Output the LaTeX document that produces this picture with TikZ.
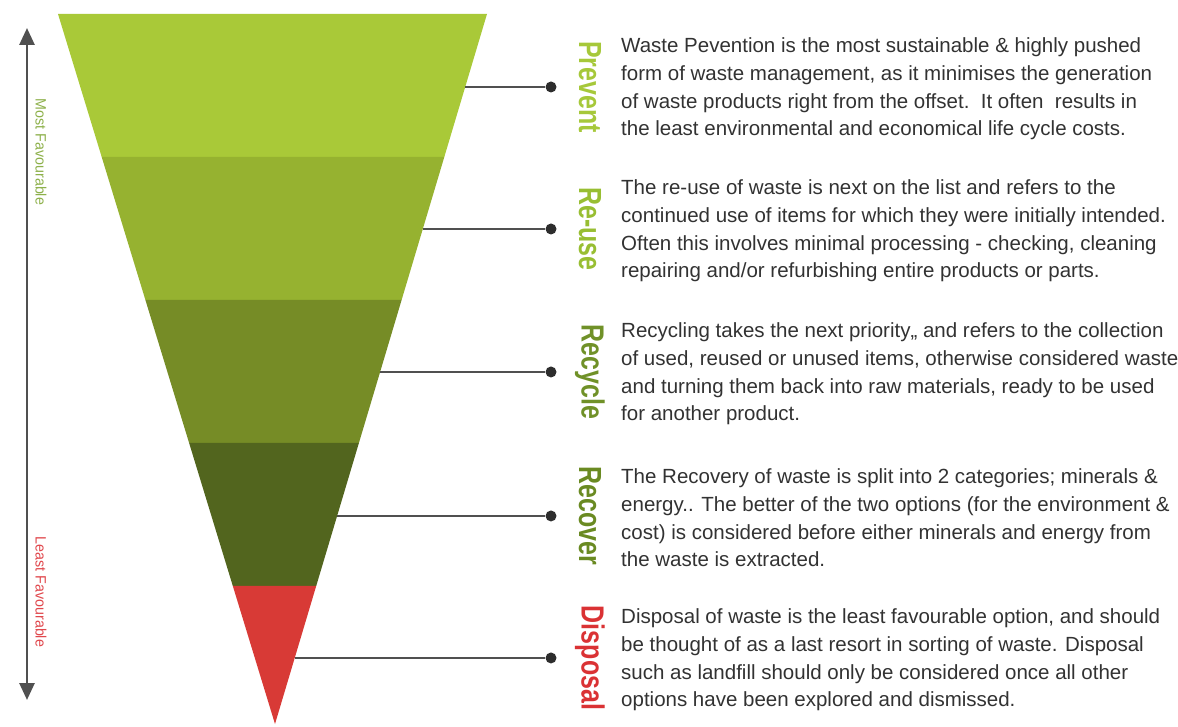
\documentclass[tikz,border=0pt]{standalone}
\usepackage{fontspec}
\setmainfont[FakeStretch=1.0]{Liberation Sans}
\newfontfamily\labelfont[FakeStretch=0.78]{Liberation Sans}
\newfontfamily\sidefont[FakeStretch=0.95]{Liberation Sans}
\usetikzlibrary{calc,positioning,arrows.meta}

\definecolor{bandA}{RGB}{169,201,56}
\definecolor{bandB}{RGB}{150,178,48}
\definecolor{bandC}{RGB}{118,140,38}
\definecolor{bandD}{RGB}{82,101,30}
\definecolor{bandE}{RGB}{216,58,54}
\definecolor{labA}{RGB}{166,200,58}
\definecolor{labB}{RGB}{152,190,50}
\definecolor{labC}{RGB}{112,145,40}
\definecolor{labD}{RGB}{106,138,34}
\definecolor{labE}{RGB}{218,50,52}
\definecolor{sideGreen}{RGB}{141,176,74}
\definecolor{sideRed}{RGB}{224,71,76}
\definecolor{txtgray}{RGB}{50,50,50}
\definecolor{linegray}{RGB}{80,80,80}
\definecolor{dotgray}{RGB}{45,45,45}

\begin{document}
\begin{tikzpicture}[x=1pt, y=1pt,
    dot/.style={circle, fill=dotgray, inner sep=0pt, minimum size=11pt},
    link/.style={draw=linegray, line width=1.8pt},
    stage/.style={rotate=-90, inner sep=0pt, font=\labelfont\bfseries\fontsize{32}{32}\selectfont},
    note/.style={align=left, inner sep=0pt, text=txtgray, font=\fontsize{20.5}{27.6}\selectfont},
    side/.style={rotate=-90, inner sep=0pt, font=\sidefont\fontsize{15}{15}\selectfont},
    scalearrow/.style={draw=linegray, line width=2.8pt, {Triangle[width=15pt,length=17pt]}-{Triangle[width=15pt,length=17pt]}}]
    \useasboundingbox (0,0) rectangle (1178,726);
    \coordinate (TL) at (58,712);
    \coordinate (TR) at (487,712);
    \coordinate (apex) at (275,2);
    \coordinate (dx) at (551,0);

    % the five bands of the funnel
    \fill[bandA] (TL) -- (TR) -- ($(TR)!0.2014!(apex)$) -- ($(TL)!0.2014!(apex)$) -- cycle;
    \fill[bandB] ($(TL)!0.2014!(apex)$) -- ($(TR)!0.2014!(apex)$) -- ($(TR)!0.4028!(apex)$) -- ($(TL)!0.4028!(apex)$) -- cycle;
    \fill[bandC] ($(TL)!0.4028!(apex)$) -- ($(TR)!0.4028!(apex)$) -- ($(TR)!0.6042!(apex)$) -- ($(TL)!0.6042!(apex)$) -- cycle;
    \fill[bandD] ($(TL)!0.6042!(apex)$) -- ($(TR)!0.6042!(apex)$) -- ($(TR)!0.8056!(apex)$) -- ($(TL)!0.8056!(apex)$) -- cycle;
    \fill[bandE] ($(TL)!0.8056!(apex)$) -- ($(TR)!0.8056!(apex)$) -- (apex) -- cycle;

    % favourable scale
    \coordinate (arrTop) at (27,698);
    \coordinate (arrBot) at (27,26);
    \draw[scalearrow] (arrTop) -- (arrBot);
    \node[side, text=sideGreen] (most) at (41,574) {Most Favourable};
    \node[side, text=sideRed] (least) at (41,134) {Least Favourable};

    % prevent
    \coordinate (ePrevent) at ($(TR)!0.1028!(apex)$);
    \node[dot] (dPrevent) at (ePrevent -| dx) {};
    \draw[link] (ePrevent) -- (dPrevent);
    \node[stage, text=labA] (lPrevent) at ($(dPrevent)+(39,0)$) {Prevent};
    \node[note, right=70pt of dPrevent.center, yshift=-2pt] (tPrevent) {Waste Pevention is the most sustainable \& highly pushed\\form of waste management, as it minimises the generation\\of waste products right from the offset.\ \ It often\ \ results in\\the least environmental and economical life cycle costs.};

    % re-use
    \coordinate (eReuse) at ($(TR)!0.3028!(apex)$);
    \node[dot] (dReuse) at (eReuse -| dx) {};
    \draw[link] (eReuse) -- (dReuse);
    \node[stage, text=labB] (lReuse) at ($(dReuse)+(39,0)$) {Re-use};
    \node[note, right=70pt of dReuse.center, yshift=-2pt] (tReuse) {The re-use of waste is next on the list and refers to the\\continued use of items for which they were initially intended.\\Often this involves minimal processing - checking, cleaning\\repairing and/or refurbishing entire products or parts.};

    % recycle
    \coordinate (eRecycle) at ($(TR)!0.5042!(apex)$);
    \node[dot] (dRecycle) at (eRecycle -| dx) {};
    \draw[link] (eRecycle) -- (dRecycle);
    \node[stage, text=labC] (lRecycle) at ($(dRecycle)+(39,0)$) {Recycle};
    \node[note, right=70pt of dRecycle.center, yshift=-2pt] (tRecycle) {Recycling takes the next priority,, and refers to the collection\\of used, reused or unused items, otherwise considered waste\\and turning them back into raw materials, ready to be used\\for another product.};

    % recover
    \coordinate (eRecover) at ($(TR)!0.7070!(apex)$);
    \node[dot] (dRecover) at (eRecover -| dx) {};
    \draw[link] (eRecover) -- (dRecover);
    \node[stage, text=labD] (lRecover) at ($(dRecover)+(39,0)$) {Recover};
    \node[note, right=70pt of dRecover.center, yshift=-2pt] (tRecover) {The Recovery of waste is split into 2 categories; minerals \&\\energy.. The better of the two options (for the environment \&\\cost) is considered before either minerals and energy from\\the waste is extracted.};

    % disposal
    \coordinate (eDisposal) at ($(TR)!0.9070!(apex)$);
    \node[dot] (dDisposal) at (eDisposal -| dx) {};
    \draw[link] (eDisposal) -- (dDisposal);
    \node[stage, text=labE] (lDisposal) at ($(dDisposal)+(39,0)$) {Disposal};
    \node[note, right=70pt of dDisposal.center, yshift=-2pt] (tDisposal) {Disposal of waste is the least favourable option, and should\\be thought of as a last resort in sorting of waste. Disposal\\such as landfill should only be considered once all other\\options have been explored and dismissed.};
\end{tikzpicture}
\end{document}
